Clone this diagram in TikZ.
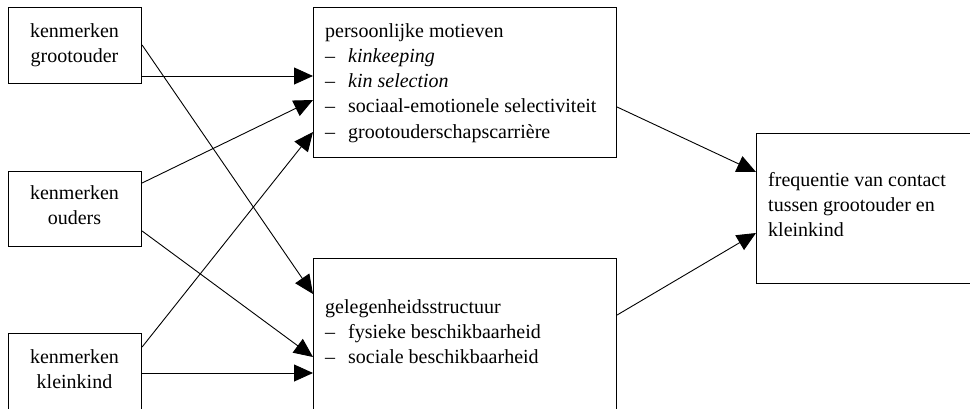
\documentclass[tikz,border=0pt]{standalone}
\usepackage{fontspec}
\setmainfont{Liberation Serif}
\usetikzlibrary{arrows.meta}
\tikzset{
  box/.style={draw, line width=1.1pt, inner sep=0pt, anchor=north west},
  arr/.style={line width=0.9pt, -{Triangle[length=19pt,width=17pt]}},
  txt/.style={inner sep=0pt, anchor=base west, font=\fontsize{20}{25.3}\selectfont},
  ctxt/.style={inner sep=0pt, anchor=base, font=\fontsize{20}{25.3}\selectfont}
}
\newcommand{\itm}[1]{\makebox[23pt][l]{--}#1}
\begin{document}
\begin{tikzpicture}[x=1pt,y=-1pt]
\useasboundingbox (0,0) rectangle (970,408);
\clip (0,0) rectangle (970,408);
% boxes
\node[box, minimum width=133pt, minimum height=76pt] (G) at (8,7) {};
\node[box, minimum width=133pt, minimum height=75pt] (O) at (8,171) {};
\node[box, minimum width=133pt, minimum height=100pt] (K) at (8,333) {};
\node[box, minimum width=303pt, minimum height=150pt] (P) at (313,7) {};
\node[box, minimum width=303pt, minimum height=170pt] (S) at (313,258) {};
\node[box, minimum width=240pt, minimum height=150pt] (F) at (756,133) {};
% texts
\node[ctxt] (Gt) at (74.5,37) {\begin{tabular}[t]{@{}c@{}}kenmerken\\grootouder\end{tabular}};
\node[ctxt] (Ot) at (74.5,199) {\begin{tabular}[t]{@{}c@{}}kenmerken\\ouders\end{tabular}};
\node[ctxt] (Kt) at (74.5,363) {\begin{tabular}[t]{@{}c@{}}kenmerken\\kleinkind\end{tabular}};
\node[txt] (Pt) at (325,37) {\begin{tabular}[t]{@{}l@{}}persoonlijke motieven\\\itm{\textit{kinkeeping}}\\\itm{\textit{kin selection}}\\\itm{sociaal-emotionele selectiviteit}\\\itm{grootouderschapscarrière}\end{tabular}};
\node[txt] (St) at (325,313) {\begin{tabular}[t]{@{}l@{}}gelegenheidsstructuur\\\itm{fysieke beschikbaarheid}\\\itm{sociale beschikbaarheid}\end{tabular}};
\node[txt] (Ft) at (768,186) {\begin{tabular}[t]{@{}l@{}}frequentie van contact\\tussen grootouder en\\kleinkind\end{tabular}};
% arrows
\draw[arr] (G.east |- 0,76) -- (P.west |- 0,76);
\draw[arr] (O.east |- 0,183) -- (P.west |- 0,100);
\draw[arr] (K.east |- 0,347) -- (P.west |- 0,132);
\draw[arr] (G.east |- 0,45) -- (S.west |- 0,294);
\draw[arr] (O.east |- 0,231) -- (S.west |- 0,357);
\draw[arr] (K.east |- 0,373) -- (S.west |- 0,373);
\draw[arr] (P.east |- 0,107) -- (F.west |- 0,172);
\draw[arr] (S.east |- 0,315) -- (F.west |- 0,233);
\end{tikzpicture}
\end{document}
